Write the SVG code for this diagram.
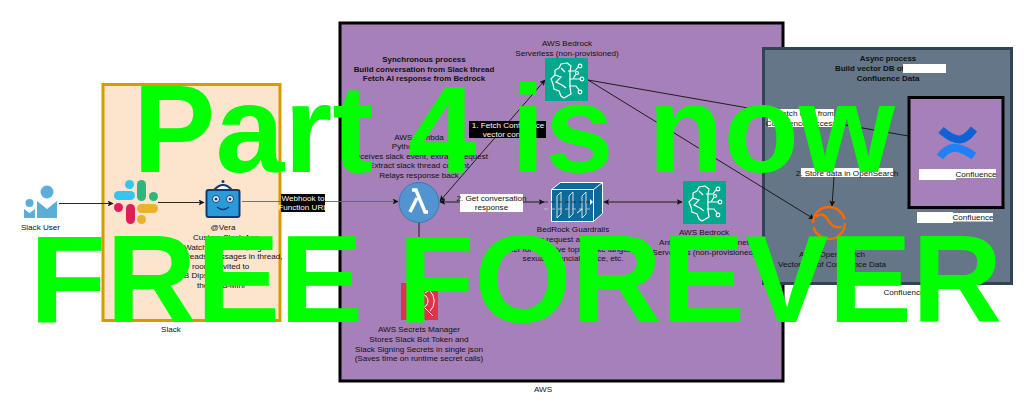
<svg xmlns="http://www.w3.org/2000/svg" width="1024" height="405" viewBox="0 0 1024 405">
<style>
text{font-family:"Liberation Sans",Arial,sans-serif;font-size:8.1px;fill:#111;text-anchor:middle}
.b{font-weight:bold;font-size:7.95px}
.s{text-anchor:start}
.w{fill:#fff}
.big{font-size:125px;fill:#0f0;font-weight:bold}
.c{fill:none;stroke:#111;stroke-width:.9}
.ic{fill:none;stroke:#fff;stroke-width:1.2}
</style>
<defs>
<marker id="a" viewBox="0 0 10 10" refX="9" refY="5" markerWidth="6" markerHeight="6" orient="auto-start-reverse" markerUnits="userSpaceOnUse"><path d="M0 0L10 5L0 10L2.500 5Z" fill="#111"/></marker>
<g id="brain">
<rect width="43" height="43" fill="#01a88d"/>
<path class="ic" d="M22 5l-6 1-2 4-4 2 0 5-4 4 2 5 1 5 5 2 2 5 3 2 7-4-1-7 0-8 0-8 1-5ZM10 17l6 2-5 5 6 3M23 13l7 0 3-4M24 21l11 0M24 28l7 0 3 4M28 21l3-5M16 10l4 4M17 27l4 3"/>
<circle class="ic" cx="35" cy="8" r="1.800"/><circle class="ic" cx="37" cy="21" r="1.800"/><circle class="ic" cx="35" cy="34" r="1.800"/><circle class="ic" cx="32" cy="15" r="1.500"/>
</g>
</defs>
<rect width="1024" height="405" fill="#fff"/>
<g id="slack-box"><rect x="103" y="84.500" width="177" height="236" fill="#fde4cc" stroke="#d79b00" stroke-width="3"/><text x="171" y="332">Slack</text></g>
<g id="aws-box"><rect x="340" y="23" width="443" height="358" fill="#a680b8" stroke="#000" stroke-width="3"/><text x="543" y="392">AWS</text><rect x="552" y="384" width="6" height="10" fill="#fff"/></g>
<g id="async-box"><rect x="763.500" y="48.500" width="248" height="235" fill="#647687" stroke="#314354" stroke-width="3"/>
<text class="b" x="888" y="61">Async process</text><text class="b s" x="835" y="71">Build vector DB of</text><text class="b" x="888" y="80.500">Confluence Data</text><rect x="903" y="64" width="43" height="9" fill="#fff"/><text x="904" y="295">Confluence</text></g>
<g id="connectors">
<path class="c" d="M59 203.500H113" marker-end="url(#a)"/>
<path class="c" d="M158 202.500H204" marker-end="url(#a)"/>
<path class="c" d="M242 201.500H398" style="stroke:#666" marker-end="url(#a)"/>
<path class="c" d="M440 202H544" marker-start="url(#a)" marker-end="url(#a)"/>
<path class="c" d="M604 202H682" marker-start="url(#a)" marker-end="url(#a)"/>
<path class="c" d="M440 201L545 80" marker-start="url(#a)" marker-end="url(#a)"/>
<path class="c" d="M588 80L937 141" marker-end="url(#a)"/>
<path class="c" d="M588 80L814 219" marker-end="url(#a)"/>
<path class="c" d="M834 177L832 206" marker-end="url(#a)"/>
<path class="c" d="M419 223V283"/>
</g>
<g id="slack-user"><circle cx="47" cy="192" r="6.500" fill="#5aaed8"/><circle cx="29.500" cy="203" r="4" fill="#5aaed8"/>
<path d="M37 201l10 8 10-8v17H37Z" fill="#5aaed8"/><path d="M24 209l5.500 4 5.500-4v9H24Z" fill="#5aaed8"/><text x="40.500" y="230">Slack User</text></g>
<g id="slack-icon">
<rect x="114" y="191" width="21" height="9" rx="4.500" fill="#36c5f0"/><rect x="125" y="180" width="9" height="9" rx="4.500" fill="#36c5f0"/>
<rect x="137" y="180" width="9" height="21" rx="4.500" fill="#2eb67d"/><rect x="149" y="192" width="9" height="9" rx="4.500" fill="#2eb67d"/>
<rect x="137" y="204" width="21" height="9" rx="4.500" fill="#ecb22e"/><rect x="137" y="215" width="9" height="9" rx="4.500" fill="#ecb22e"/>
<rect x="126" y="204" width="9" height="20" rx="4.500" fill="#e01e5a"/><rect x="114" y="203" width="9" height="9" rx="4.500" fill="#e01e5a"/>
</g>
<g id="vera"><path d="M214 190q9-10 18 0Z" fill="#fff" stroke="#0b3d78" stroke-width="2"/><circle cx="223" cy="181.500" r="1.500" fill="#0b3d78"/>
<rect x="206.500" y="190" width="33" height="27" rx="2" fill="#2b9ad8" stroke="#0b3d78" stroke-width="2"/>
<circle cx="216" cy="199" r="3.500" fill="#fff" stroke="#0b3d78"/><circle cx="230" cy="199" r="3.500" fill="#fff" stroke="#0b3d78"/><circle cx="216" cy="199" r="1.500" fill="#0b3d78"/><circle cx="230" cy="199" r="1.500" fill="#0b3d78"/>
<path d="M217 207q6 5 12 0" fill="none" stroke="#0b3d78" stroke-width="1.500"/>
<text x="223" y="230">@Vera</text>
<text class="s" x="193" y="240">Custom Slack App</text><text class="s" x="184" y="249.500">Watches for DMs, tags</text><text class="s" x="187" y="259">reads messages in thread,</text><text class="s" x="192" y="268.500">rooms invited to</text><text class="s" x="178" y="278">DB Dips for</text><text class="s" x="197" y="288">the Vera-Mini</text></g>
<g id="webhook-label"><rect x="281" y="194" width="44" height="18" fill="#000"/><text class="w" x="303" y="201">Webhook to</text><text class="w" x="303" y="210">Function URL</text></g>
<g id="sync-title"><text class="b" x="424" y="62">Synchronous process</text><text class="b" x="424" y="71.500">Build conversation from Slack thread</text><text class="b" x="424" y="81">Fetch AI response from Bedrock</text></g>
<g id="bedrock"><text x="567" y="46">AWS Bedrock</text><text x="567" y="55.500">Serverless (non-provisioned)</text><use href="#brain" x="545" y="58"/></g>
<g id="fetch-label"><rect x="469" y="121" width="77" height="17" fill="#000"/><text class="w" x="508" y="128">1. Fetch Confluence</text><text class="w" x="508" y="137">vector context</text></g>
<g id="lambda"><text x="419" y="140">AWS Lambda</text><text x="419" y="149">Python runtime</text><text x="419" y="159">Receives slack event, extracts request</text><text x="419" y="168">Extract slack thread content</text><text x="419" y="178">Relays response back</text>
<circle cx="419" cy="202.500" r="20" fill="#5294cf" stroke="#3e78ac"/><path d="M412 190h4l9 22h3M417 198l-7 14" fill="none" stroke="#fff" stroke-width="3.500"/></g>
<g id="get-label"><rect x="460" y="194" width="63" height="18" fill="#fff"/><text x="491.500" y="201">2. Get conversation</text><text x="491.500" y="210">response</text></g>
<g id="guardrails"><path d="M551.500 189.500l9-7h42v31l-9 8h-42Z" fill="#0f6a9c" stroke="#fff" stroke-width="1"/><path d="M551.500 189.500h42v32M593.500 189.500l9-7" fill="none" stroke="#fff" stroke-width="1"/>
<path d="M557 196l4-4v22l-4 4ZM569 196l4-4v22l-4 4ZM582 196l4-4v22l-4 4Z" stroke="#fff" fill="none" stroke-width=".8"/><path d="M544 202h46" stroke="#222" fill="none" stroke-dasharray="4 3" stroke-width=".8"/><path d="M544 209h46" stroke="#ccc" fill="none" stroke-dasharray="4 3" stroke-width=".8"/><path d="M590 199l3 3-3 3Z" fill="#fff"/><path d="M582 209l-5 4" stroke="#fff" fill="none"/>
<text x="573" y="232">BedRock Guardrails</text><text x="573" y="242">Audits request and response</text><text x="573" y="252">Filter for sensitive topics, like language,</text><text x="573" y="261">sexual, financial advice, etc.</text></g>
<g id="bedrock-2"><use href="#brain" x="683" y="181"/><text x="704" y="235">AWS Bedrock</text><text x="704" y="245">Anthropic Claude Sonnet</text><text x="704" y="255">Serverless (non-provisioned)</text></g>
<g id="secrets"><rect x="401" y="283" width="37" height="37" fill="#dd344c"/><circle cx="421" cy="301" r="7" fill="none" stroke="#fff"/><path d="M430 291a14 14 0 0 1 0 20M425 308l8 8M425 293l6-4" fill="none" stroke="#fff"/>
<text x="419" y="332">AWS Secrets Manager</text><text x="419" y="342">Stores Slack Bot Token and</text><text x="419" y="352">Slack Signing Secrets in single json</text><text x="419" y="361">(Saves time on runtime secret calls)</text></g>
<g id="fetch-data-label"><rect x="768" y="109" width="66" height="18" fill="#fff"/><text x="801" y="116">1. Fetch data from</text><text x="801" y="125.500">Confluence, access</text></g>
<g id="store-label"><rect x="801" y="168" width="92" height="9" fill="#fff"/><text x="847" y="175.500">2. Store data in OpenSearch</text></g>
<g id="opensearch"><circle cx="829" cy="223" r="16" fill="none" stroke="#f26b0a" stroke-width="2.500" stroke-dasharray="46 4 46 5"/><path d="M816 217q7-6 12 3t14 7" fill="none" stroke="#f26b0a" stroke-width="2.500"/>
<text x="832" y="257">AWS OpenSearch</text><text x="832" y="267">Vector DB of Confluence Data</text></g>
<g id="confluence"><rect x="909" y="97.500" width="94" height="110" fill="#a680b8" stroke="#000" stroke-width="3"/>
<path d="M941 130C948 136 954 140 960 139.500C966 139 970 134 974 129" fill="none" stroke="#0f62d6" stroke-width="8"/><path d="M940 157C945 150 951 147 957 148C964 149 968 152 974 156" fill="none" stroke="#2080f5" stroke-width="8"/>
<rect x="919" y="169" width="37" height="11" fill="#fff"/><rect x="956" y="169" width="40" height="9" fill="#fff"/><text x="976" y="176.500">Confluence</text>
<rect x="917" y="212" width="36" height="11" fill="#fff"/><rect x="953" y="213" width="40" height="8.500" fill="#fff"/><text x="973" y="220">Confluence</text></g>
<g id="banner"><text class="big" style="font-size:123.500px" x="514" y="172">Part 4 is now</text><text class="big" x="516" y="322">FREE FOREVER</text></g>
</svg>
